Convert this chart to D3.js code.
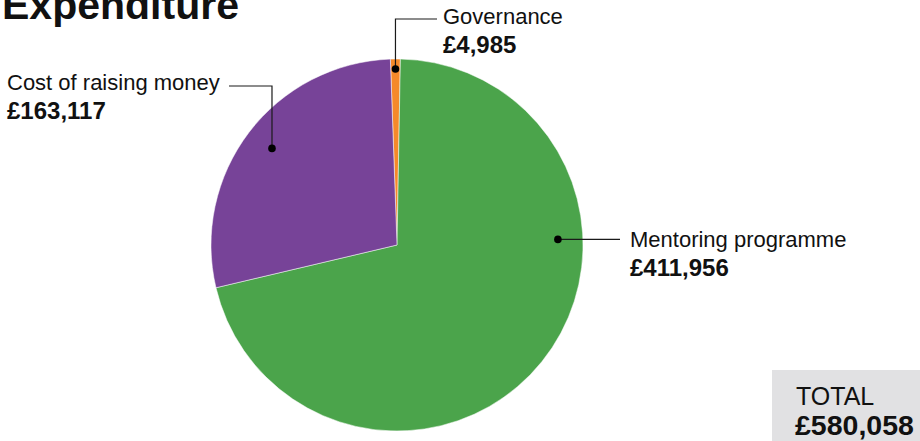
<!DOCTYPE html>
<html>
<head>
<meta charset="utf-8">
<script src="https://cdn.jsdelivr.net/npm/d3@7"></script>
<style>
  html, body { margin: 0; padding: 0; background: #fff; }
  svg { display: block; font-family: "Liberation Sans", Arial, sans-serif; }
</style>
</head>
<body>
<svg id="chart" width="920" height="441"></svg>
<script>
// ---- data ----
const categories = ["Governance", "Mentoring programme", "Cost of raising money"];
const values = [4985, 411956, 163117];
const sliceColors = ["#f5892a", "#4ba44b", "#774398"];
const title = "Expenditure";
const totalLabel = "TOTAL";

// ---- layout ----
const W = 920, H = 441;
const cx = 397, cy = 245, R = 186;
const fmt = v => "£" + d3.format(",")(v);
const total = d3.sum(values);

const svg = d3.select("#chart");

svg.append("text")
  .attr("x", 2).attr("y", 19)
  .attr("font-size", 41).attr("font-weight", 700)
  .attr("fill", "#111")
  .text(title);

const deg = Math.PI / 180;
const startA = -2.05 * deg;
const pie = d3.pie().sort(null).value(d => d)
  .startAngle(startA).endAngle(startA + 2 * Math.PI);
const arcs = pie(values);
const arc = d3.arc().innerRadius(0).outerRadius(R);

const g = svg.append("g").attr("transform", `translate(${cx},${cy})`);
g.selectAll("path").data(arcs).join("path")
  .attr("d", arc)
  .attr("fill", (d, i) => sliceColors[i])
  .attr("stroke", "#fff").attr("stroke-width", 0.5);

// annotation layout (dot polar position inside slice, elbow + text anchor)
const annots = [
  { angle: -0.5, r: 176, route: "up-right", elbowY: 19, endX: 437, tx: 443, ty: 24 },
  { angle: 88, r: 161, route: "right", endX: 620, tx: 630, ty: 247 },
  { angle: 307.7, r: 158, route: "up-left", elbowY: 86, endX: 229, tx: 7, ty: 90 }
];

annots.forEach((a, i) => {
  const px = cx + a.r * Math.sin(a.angle * deg);
  const py = cy - a.r * Math.cos(a.angle * deg);
  let pts;
  if (a.route === "right") pts = [[px, py], [a.endX, py]];
  else pts = [[px, py], [px, a.elbowY], [a.endX, a.elbowY]];
  svg.append("path")
    .attr("d", d3.line()(pts))
    .attr("fill", "none").attr("stroke", "#1a1a1a").attr("stroke-width", 1.2);
  svg.append("circle").attr("cx", px).attr("cy", py).attr("r", 3.8).attr("fill", "#000");
  svg.append("text")
    .attr("x", a.tx).attr("y", a.ty)
    .attr("font-size", 22).attr("fill", "#111")
    .text(categories[i]);
  svg.append("text")
    .attr("x", a.tx).attr("y", a.ty + 28.5)
    .attr("font-size", 24).attr("font-weight", 700).attr("fill", "#111")
    .text(fmt(values[i]));
});

// total box
svg.append("rect")
  .attr("x", 772).attr("y", 370).attr("width", W - 772).attr("height", H - 370)
  .attr("fill", "#e1e1e3");
svg.append("text")
  .attr("x", 796).attr("y", 405)
  .attr("font-size", 25).attr("fill", "#111")
  .text(totalLabel);
svg.append("text")
  .attr("x", 795).attr("y", 435)
  .attr("font-size", 28.5).attr("font-weight", 700).attr("fill", "#111")
  .text(fmt(total));
</script>
</body>
</html>
